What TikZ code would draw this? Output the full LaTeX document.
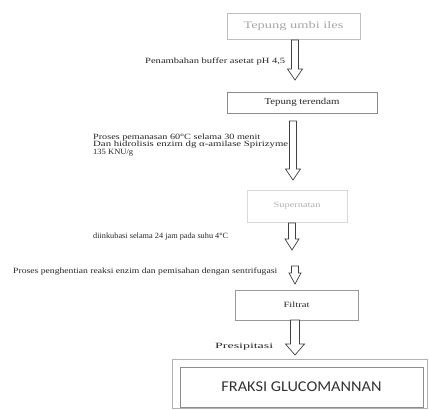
\documentclass[tikz,border=0pt]{standalone}
\usepackage{fontspec}
\setmainfont{Liberation Serif}
\newfontfamily\carl{Carlito}
\usepackage{graphicx}
\usetikzlibrary{calc}
\newcommand{\fitw}[2]{\resizebox{#1pt}{\height}{#2}}
\newcommand{\blockarrow}[4]{% from, to, half shaft, half head
  \draw[blkarrow] let \p1=(#1), \p2=(#2) in
    (\x1-#3pt,\y1) -- (\x1-#3pt,\y2+11pt) -- (\x1-#4pt,\y2+11pt) -- (\x1,\y2)
    -- (\x1+#4pt,\y2+11pt) -- (\x1+#3pt,\y2+11pt) -- (\x1+#3pt,\y1) -- cycle;}
\tikzset{
  boxa/.style={draw=black!25, line width=0.6pt, minimum width=#1, inner sep=0pt},
  lbl/.style={anchor=west, inner sep=0pt, font=\fontsize{8}{8.5}\selectfont, text=black!85},
  blkarrow/.style={draw=black!75, fill=white, line width=0.7pt, line join=miter},
}
\begin{document}
\begin{tikzpicture}[x=1pt,y=-1pt]
\useasboundingbox (0,0) rectangle (429,410);
\fill[white] (0,0) rectangle (429,410);

% boxes
\node[boxa=133pt, minimum height=26pt, text=black!35, font=\fontsize{10}{11}\selectfont] (b1) at (293.5,26) {\fitw{100}{Tepung umbi iles}};
\node[boxa=150pt, minimum height=21pt, draw=black!45, font=\fontsize{9}{10}\selectfont, text=black!85] (b2) at (302,102.5) {\fitw{75}{Tepung terendam}};
\node[boxa=100pt, minimum height=32pt, draw=black!15, text=black!30, font=\fontsize{8}{9}\selectfont] (b3) at (297,206) {\fitw{47}{Supernatan}};
\node[boxa=123pt, minimum height=30pt, draw=black!40, text=black!85, font=\fontsize{8}{9}\selectfont] (b4) at (296.5,305) {\fitw{26}{Filtrat}};
\node[draw=black!45, line width=0.7pt, minimum width=243pt, minimum height=40pt, inner sep=0pt, font=\carl\fontsize{15}{18}\selectfont, text=black!80] (b5) at (301.5,387) {\fitw{160}{FRAKSI GLUCOMANNAN}};
\draw[black!30, line width=0.5pt] ($(b5.north west)+(-7,-7)$) rectangle ($(b5.south east)+(4,1)$);

% arrow end points
\coordinate (a1s) at (295,40);
\coordinate (a1e) at (295,80);
\coordinate (a2s) at (293,121);
\coordinate (a2e) at (293,180);
\coordinate (a3s) at (292,223);
\coordinate (a3e) at (292,250);
\coordinate (a4s) at (295,266);
\coordinate (a4e) at (295,284);
\coordinate (a5s) at (295,320);
\coordinate (a5e) at (295,355);

\blockarrow{a1s}{a1e}{3.5}{7.5}
\blockarrow{a2s}{a2e}{3.5}{7.5}
\blockarrow{a3s}{a3e}{3.5}{7}
\blockarrow{a4s}{a4e}{3.5}{6}
\blockarrow{a5s}{a5e}{4.5}{9.5}

% labels
\node[lbl] (l1) at (145,62) {\fitw{140}{Penambahan buffer asetat pH 4,5}};
\node[lbl, align=left] (l2) at (93,145) {\fitw{167}{Proses pemanasan 60°C selama 30 menit}\\[-1pt]\fitw{195}{Dan hidrolisis enzim dg α-amilase Spirizyme}\\[-1pt]\fitw{40}{135 KNU/g}};
\node[lbl] (l3) at (93,237) {\fitw{135}{diinkubasi selama 24 jam pada suhu 4°C}};
\node[lbl] (l4) at (13,272) {\fitw{264}{Proses penghentian reaksi enzim dan pemisahan dengan sentrifugasi}};
\node[lbl] (l5) at (215,347) {\fitw{58}{Presipitasi}};
\end{tikzpicture}
\end{document}
